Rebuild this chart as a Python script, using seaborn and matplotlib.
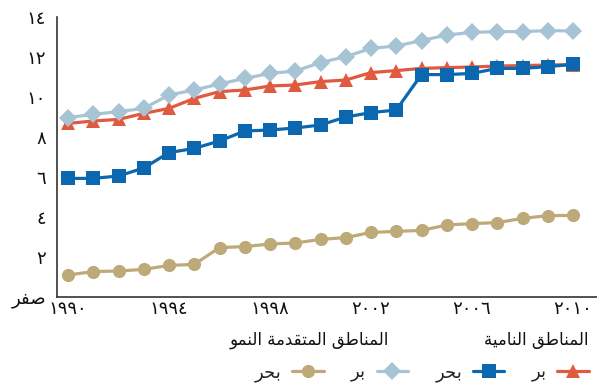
import matplotlib
matplotlib.use("Agg")
import matplotlib.pyplot as plt
import seaborn as sns

# ---------------- data ----------------
years = list(range(1990, 2011))
developing_land = [8.68, 8.8, 8.88, 9.18, 9.43, 9.93, 10.27, 10.35, 10.55, 10.6, 10.77,
                   10.85, 11.22, 11.32, 11.43, 11.47, 11.5, 11.55, 11.57, 11.6, 11.62]
developing_sea = [5.93, 5.93, 6.05, 6.45, 7.22, 7.43, 7.8, 8.3, 8.35, 8.45, 8.6,
                  9.0, 9.22, 9.35, 11.12, 11.12, 11.18, 11.43, 11.43, 11.52, 11.63]
developed_land = [8.97, 9.13, 9.27, 9.43, 10.1, 10.35, 10.65, 10.93, 11.18, 11.3, 11.72,
                  12.02, 12.43, 12.55, 12.82, 13.1, 13.23, 13.27, 13.27, 13.32, 13.3]
developed_sea = [1.1, 1.27, 1.3, 1.38, 1.58, 1.63, 2.47, 2.52, 2.65, 2.7, 2.88,
                 2.97, 3.23, 3.28, 3.33, 3.6, 3.67, 3.72, 3.93, 4.07, 4.08]

y_ticks = [0, 2, 4, 6, 8, 10, 12, 14]
y_tick_labels = ["صفر", "٢", "٤", "٦", "٨", "١٠", "١٢", "١٤"]
x_ticks = [1990, 1994, 1998, 2002, 2006, 2010]
x_tick_labels = ["١٩٩٠", "١٩٩٤", "١٩٩٨", "٢٠٠٢", "٢٠٠٦", "٢٠١٠"]

header_developing = "المناطق النامية"
header_developed = "المناطق المتقدمة النمو"
label_land = "بر"
label_sea = "بحر"

# ---------------- minimal Arabic shaping (presentation forms, visual order) ----------------
FORMS = {
    "ا": (0xFE8D, 0xFE8E), "د": (0xFEA9, 0xFEAA), "ر": (0xFEAD, 0xFEAE),
    "و": (0xFEED, 0xFEEE), "ة": (0xFE93, 0xFE94),
    "ب": (0xFE8F, 0xFE90, 0xFE91, 0xFE92), "ت": (0xFE95, 0xFE96, 0xFE97, 0xFE98),
    "ح": (0xFEA1, 0xFEA2, 0xFEA3, 0xFEA4), "ص": (0xFEB9, 0xFEBA, 0xFEBB, 0xFEBC),
    "ط": (0xFEC1, 0xFEC2, 0xFEC3, 0xFEC4), "ف": (0xFED1, 0xFED2, 0xFED3, 0xFED4),
    "ق": (0xFED5, 0xFED6, 0xFED7, 0xFED8), "ل": (0xFEDD, 0xFEDE, 0xFEDF, 0xFEE0),
    "م": (0xFEE1, 0xFEE2, 0xFEE3, 0xFEE4), "ن": (0xFEE5, 0xFEE6, 0xFEE7, 0xFEE8),
    "ي": (0xFEF1, 0xFEF2, 0xFEF3, 0xFEF4),
}


def shape(text):
    if not any(c in FORMS for c in text):
        return text
    out = []
    n = len(text)
    for i, c in enumerate(text):
        if c not in FORMS:
            out.append(c)
            continue
        f = FORMS[c]
        prev = text[i - 1] if i > 0 else None
        nxt = text[i + 1] if i < n - 1 else None
        jp = prev in FORMS and len(FORMS[prev]) == 4
        jn = nxt in FORMS and len(f) == 4
        if jp and jn:
            ch = f[3]
        elif jp:
            ch = f[1]
        elif jn:
            ch = f[2]
        else:
            ch = f[0]
        out.append(chr(ch))
    return "".join(out)[::-1]


# ---------------- style ----------------
sns.set_style("white")
plt.rcParams["font.family"] = ["DejaVu Sans"]

RED = "#E05A40"
BLUE = "#0A67B0"
LIGHT = "#A7C4D4"
TAN = "#BEAA79"

fig = plt.figure(figsize=(5.97, 3.91), dpi=100)
ax = fig.add_axes([57 / 597, 1 - 297 / 391, 540 / 597, 280 / 391])

lw = 2.3
sns.lineplot(x=years, y=developed_sea, ax=ax, color=TAN, marker="o", markersize=9.5,
             markeredgewidth=0, linewidth=lw, label=shape(label_sea))
sns.lineplot(x=years, y=developing_land, ax=ax, color=RED, marker="^", markersize=10,
             markeredgewidth=0, linewidth=lw, label=shape(label_land))
sns.lineplot(x=years, y=developed_land, ax=ax, color=LIGHT, marker="D", markersize=9,
             markeredgewidth=0, linewidth=lw, label=shape(label_land))
sns.lineplot(x=years, y=developing_sea, ax=ax, color=BLUE, marker="s", markersize=10,
             markeredgewidth=0, linewidth=lw, label=shape(label_sea))

ax.set_xlim(1990 - 11 / 25.25, 2010 + 24 / 25.25)
ax.set_ylim(0, 14)
ax.set_yticks(y_ticks)
ax.set_yticklabels([shape(t) for t in y_tick_labels])
ax.set_xticks(x_ticks)
ax.set_xticklabels(x_tick_labels)
ax.tick_params(axis="both", length=0, labelsize=13, colors="#111111")
ax.tick_params(axis="y", pad=8)
ax.tick_params(axis="x", pad=2)
ax.set_xlabel("")
ax.set_ylabel("")
for s in ["top", "right"]:
    ax.spines[s].set_visible(False)
for s in ["left", "bottom"]:
    ax.spines[s].set_color("#333333")
    ax.spines[s].set_linewidth(1.2)

# legend
handles, labels = ax.get_legend_handles_labels()
ax.get_legend().remove()
# order left-to-right: developed sea, developed land, developing sea, developing land
order = [0, 2, 3, 1]
fig.legend([handles[i] for i in order], [labels[i] for i in order], ncol=4,
           loc="center right", bbox_to_anchor=(589 / 597, 1 - 373 / 391),
           markerfirst=False, frameon=False, fontsize=13, handlelength=1.75,
           handletextpad=0.6, columnspacing=1.5, borderaxespad=0, borderpad=0)

fig.text(588 / 597, 1 - 340 / 391, shape(header_developing), ha="right", va="center",
         fontsize=12, color="#111111")
fig.text(389 / 597, 1 - 340 / 391, shape(header_developed), ha="right", va="center",
         fontsize=12, color="#111111")

fig.savefig("out.png", dpi=100)
